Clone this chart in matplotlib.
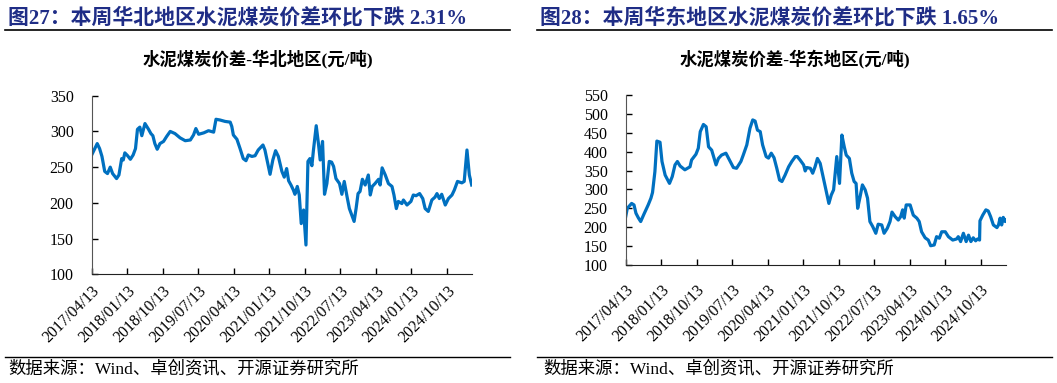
import matplotlib
matplotlib.use("Agg")
import matplotlib.pyplot as plt
from matplotlib.lines import Line2D

FONTS = ['Liberation Serif', 'Noto Sans CJK SC', 'DejaVu Sans']
plt.rcParams['font.family'] = FONTS

# ---------------- data ----------------
tick_labels = ['2017/04/13', '2018/01/13', '2018/10/13', '2019/07/13', '2020/04/13',
               '2021/01/13', '2021/10/13', '2022/07/13', '2023/04/13', '2024/01/13',
               '2024/10/13']

# months elapsed since 2017/04/13
north_months = [0, 1.4, 2, 2.6, 3.3, 4, 4.7, 5.3, 6.3, 6.9, 7.6, 8.0, 8.4, 9.1, 9.8, 10.5,
                11.1, 11.6, 12.2, 12.7, 13.5, 14.4, 15, 15.5, 16, 16.6, 17.3, 18.2, 19, 19.9,
                21.1, 22.4, 23.7, 25, 25.8, 26.4, 27.1, 28.4, 29.6, 30.9, 31.5, 32.5, 33.8,
                35.1, 35.5, 35.9, 36.8, 37.6, 38.4, 39.1, 39.7, 40.6, 41.4, 42.2, 43.4, 43.9,
                44.5, 45.2, 45.9, 46.6, 47.3, 48.2, 48.8, 49.4, 49.9, 50.5, 51.1, 51.5, 52.1,
                52.6, 53.1, 53.7, 54.3, 54.8, 55.3, 55.8, 56.2, 56.9, 57.5, 57.9, 58.5, 59.0,
                59.6, 60.2, 60.8, 61.3, 61.9, 62.8, 63.4, 64, 64.7, 65.3, 65.9, 66.5, 67.0,
                67.5, 68, 68.6, 69.3, 70.1, 70.6, 71.1, 71.8, 72.7, 73.1, 73.6, 74.4, 75.2,
                76.1, 76.6, 77.2, 77.7, 78.6, 79.0, 79.9, 80.9, 81.5, 82.2, 83.1, 83.9, 84.5,
                85.3, 86.2, 87.0, 87.5, 88.1, 88.7, 89.6, 90.4, 91.3, 91.9, 92.7, 93.8, 94.4,
                95.1, 95.7, 96.3]
north_values = [267, 283, 276, 265, 244, 241, 250, 241, 234, 239, 262, 260, 270, 266, 261, 267,
                276, 303, 306, 294, 311, 303, 297, 294, 283, 275, 283, 286, 293, 300,
                297, 291, 287, 288, 295, 304, 296, 298, 301, 299, 317, 316, 314,
                313, 307, 295, 289, 276, 262, 259, 267, 265, 266, 274, 281, 274,
                258, 240, 260, 273, 265, 244, 236, 248, 231, 225, 218, 212, 223,
                211, 171, 190, 141, 258, 262, 252, 274, 308, 281, 260, 286, 212,
                227, 258, 257, 251, 234, 227, 212, 230, 209, 192, 183, 174, 192,
                213, 216, 233, 225, 239, 211, 223, 227, 233, 225, 249, 239, 227,
                223, 211, 192, 202, 199, 204, 197, 202, 211, 210, 213, 206, 192,
                188, 204, 208, 213, 206, 212, 197, 206, 211, 218, 230, 228, 230,
                274, 239, 225]

east_months = [0, 0.4, 1.5, 2.1, 2.6, 3.2, 3.8, 4.6, 5.7, 6.4, 6.8, 7.4, 7.9, 8.7, 9.2, 10.0,
               11.1, 11.8, 12.5, 13.1, 13.8, 15.0, 16.3, 16.7, 17.8, 18.4, 18.9, 19.7, 20.4,
               21.0, 21.8, 22.9, 23.5, 24.3, 25.4, 26.3, 27.3, 28.1, 29.2, 29.8, 30.7, 31.5,
               32.2, 32.8, 33.4, 34.1, 34.7, 35.6, 36.2, 36.9, 37.6, 38.3, 39.0, 39.6, 40.4,
               41.3, 42.1, 43.0, 43.5, 44.2, 45.1, 45.5, 45.9, 46.8, 47.4, 48.0, 48.6, 49.3,
               50.1, 51.0, 51.5, 52.1, 52.7, 53.5, 54.2, 54.8, 55.4, 55.9, 56.7, 57.3, 57.9,
               58.4, 58.8, 59.4, 60.0, 60.7, 61.3, 61.9, 62.6, 63.4, 64.0, 64.9, 65.5, 66.3,
               67.0, 67.5, 68.3, 69.1, 69.7, 70.2, 70.6, 71.1, 72.1, 72.9, 73.8, 74.4, 75.0,
               75.9, 76.7, 77.3, 78.2, 78.8, 79.5, 80.1, 81.0, 81.8, 82.9, 83.9, 84.3, 84.9,
               85.6, 86.3, 86.9, 87.5, 88.1, 88.7, 89.2, 89.7, 89.8, 90.5, 91.3, 91.9, 92.5,
               93.2, 94.1, 94.5, 94.9, 95.3, 95.7, 96.2, 96.4]
east_values = [228, 250, 263, 259, 237, 225, 215, 234, 259, 277, 292, 347, 428, 425, 374, 338,
               316, 334, 365, 374, 362, 352, 360, 378, 393, 409, 453, 472, 466,
               413, 404, 365, 382, 391, 396, 378, 358, 356, 374, 391, 418, 462,
               484, 481, 457, 453, 418, 387, 383, 396, 384, 356, 325, 321, 338,
               360, 374, 387, 387, 378, 365, 349, 358, 356, 343, 360, 382, 369,
               330, 285, 263, 285, 299, 387, 316, 444, 413, 391, 382, 343, 321,
               316, 250, 280, 312, 299, 277, 215, 202, 184, 208, 206, 184, 197,
               215, 240, 228, 219, 228, 246, 224, 259, 259, 232, 224, 215, 188,
               172, 166, 151, 153, 175, 171, 188, 188, 175, 166, 169, 175, 162,
               184, 162, 179, 162, 172, 164, 169, 166, 217, 232, 246, 243, 228,
               206, 199, 206, 224, 206, 226, 215, 219]

titles = ['图27：本周华北地区水泥煤炭价差环比下跌 2.31%',
          '图28：本周华东地区水泥煤炭价差环比下跌 1.65%']
subtitles = ['水泥煤炭价差-华北地区(元/吨)', '水泥煤炭价差-华东地区(元/吨)']
source = '数据来源：Wind、卓创资讯、开源证券研究所'

LINE_COLOR = '#0070C0'
TITLE_COLOR = '#1F2D86'


def label_to_month(lbl):
    y, mo, _ = lbl.split('/')
    return (int(y) - 2017) * 12 + (int(mo) - 4)


tick_pos = [label_to_month(t) for t in tick_labels]

W, H = 1057, 383
fig = plt.figure(figsize=(W / 100, H / 100), dpi=100)


def px(x, y):
    return x / W, 1 - y / H


panels = [
    dict(months=north_months, values=north_values, title=titles[0], sub=subtitles[0],
         rect=(91.7, 95.7, 471.7, 274.3), ylim=(100, 350), yticks=range(100, 351, 50),
         x0=5, x1=510, sub_cx=258, src_x=5, xpad=6),
    dict(months=east_months, values=east_values, title=titles[1], sub=subtitles[1],
         rect=(625.7, 95.0, 1006.0, 265.0), ylim=(100, 550), yticks=range(100, 551, 50),
         x0=537, x1=1052, sub_cx=795, src_x=540, xpad=12),
]

for p in panels:
    l, t, r, b = p['rect']
    ax = fig.add_axes([l / W, 1 - b / H, (r - l) / W, (b - t) / H])
    ax.plot(p['months'], p['values'], color=LINE_COLOR, lw=2.3, solid_joinstyle='round')
    ax.set_ylim(*p['ylim'])
    ax.set_yticks(list(p['yticks']))
    ax.set_xlim(0, max(p['months']))
    ax.set_xticks(tick_pos)
    ax.set_xticklabels(tick_labels, rotation=45, ha='right', rotation_mode='anchor')
    ax.tick_params(axis='both', direction='in', length=4, width=1, labelsize=11.5,
                   colors='black')
    ax.tick_params(axis='x', pad=p['xpad'])
    ax.tick_params(axis='y', pad=13)
    for s in ['top', 'right']:
        ax.spines[s].set_visible(False)
    ax.spines['left'].set_color('#555555')
    ax.spines['bottom'].set_color('#222222')
    for lab in ax.get_xticklabels() + ax.get_yticklabels():
        lab.set_family(FONTS)

    # header
    fx, fy = px(p['x0'] + 3, 18)
    fig.text(fx, fy, p['title'], color=TITLE_COLOR, fontsize=15, fontweight='bold',
             ha='left', va='center')
    ya = 1 - 29.5 / H
    fig.add_artist(Line2D([p['x0'] / W, p['x1'] / W], [ya, ya], color='black', lw=1.2,
                          transform=fig.transFigure))
    sx, sy = px(p['sub_cx'], 59)
    fig.text(sx, sy, p['sub'], fontsize=12.5, fontweight='bold', ha='center', va='center')

    # footer
    yb = 1 - 357 / H
    fig.add_artist(Line2D([p['x0'] / W, p['x1'] / W], [yb, yb], color='black', lw=1.0,
                          transform=fig.transFigure))
    tx, ty = px(p['src_x'] + 3, 369)
    fig.text(tx, ty, source, fontsize=12.5, ha='left', va='center')

fig.savefig('out.png', dpi=100)
